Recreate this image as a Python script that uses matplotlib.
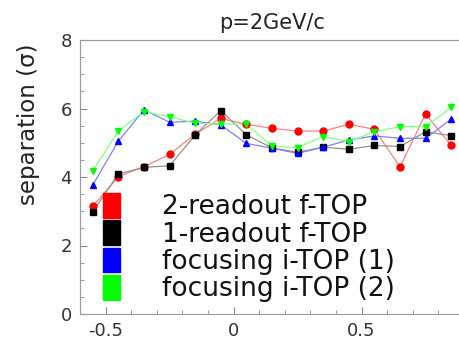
import matplotlib
matplotlib.use("Agg")
import matplotlib.pyplot as plt
from matplotlib.patches import Patch
from matplotlib.ticker import MultipleLocator

x = [-0.55, -0.45, -0.35, -0.25, -0.15, -0.05, 0.05, 0.15, 0.25, 0.35, 0.45, 0.55, 0.65, 0.75, 0.85]
red = [3.15, 4.01, 4.30, 4.66, 5.25, 5.71, 5.54, 5.42, 5.34, 5.34, 5.54, 5.39, 4.30, 5.84, 4.92]
black = [2.99, 4.09, 4.28, 4.33, 5.23, 5.94, 5.23, 4.85, 4.72, 4.87, 4.81, 4.92, 4.89, 5.32, 5.21]
blue = [3.77, 5.05, 5.96, 5.60, 5.63, 5.52, 4.98, 4.84, 4.69, 4.87, 5.08, 5.20, 5.13, 5.13, 5.69]
green = [4.18, 5.35, 5.91, 5.76, 5.57, 5.55, 5.54, 4.90, 4.86, 5.18, 5.03, 5.32, 5.47, 5.47, 6.03]
labels = ["2-readout f-TOP", "1-readout f-TOP", "focusing i-TOP (1)", "focusing i-TOP (2)"]

fig = plt.figure(figsize=(4.59, 3.42), dpi=100)
W, H = 459, 342
ax = fig.add_axes([80 / W, 1 - 314 / H, (464 - 80) / W, (314 - 40) / H])

series = [
    (red, "#ff0000", "#ff8080", "o"),
    (black, "#000000", "#909090", "s"),
    (blue, "#0000ff", "#8080ff", "^"),
    (green, "#00ff00", "#80ff80", "v"),
]
for ys, mc, lc, m in series:
    ax.plot(x, ys, color=lc, lw=0.9, zorder=2)
    ax.plot(x, ys, ls="none", marker=m, color=mc, ms=5, zorder=3)

ax.set_xlim(-0.6, 0.9)
ax.set_ylim(0, 8)
ax.xaxis.set_major_locator(MultipleLocator(0.5))
ax.xaxis.set_minor_locator(MultipleLocator(0.1))
ax.yaxis.set_major_locator(MultipleLocator(2))
ax.yaxis.set_minor_locator(MultipleLocator(0.5))
ax.set_xticks([-0.5, 0, 0.5])
ax.set_xticklabels(["-0.5", "0", "0.5"])
ax.tick_params(which="both", direction="in", colors="#888888", labelcolor="#333333", labelsize=13, pad=6)
ax.tick_params(which="major", length=5)
ax.tick_params(which="minor", length=3)
for s in ax.spines.values():
    s.set_color("#999999")

ax.set_ylabel("separation (σ)", fontsize=16.5, color="#222222")
ax.yaxis.set_label_coords((40 - 80) / 384, (314 - 124.5) / 274)
ax.set_title("p=2GeV/c", fontsize=15, color="#222222", pad=8)

fs = 19
px = fs * 100 / 72
handles = [Patch(color=c) for c in ["#ff0000", "#000000", "#0000ff", "#00ff00"]]
leg = ax.legend(handles, labels, loc="upper left", bbox_to_anchor=((103 - 80) / 384, (314 - 193) / 274),
                frameon=False, fontsize=fs, handlelength=17 / px, handleheight=28 / px,
                labelspacing=0.0, handletextpad=(162 - 120) / px, borderpad=0, borderaxespad=0)
for t in leg.get_texts():
    t.set_color("#111111")

fig.savefig("out.png", dpi=100)
